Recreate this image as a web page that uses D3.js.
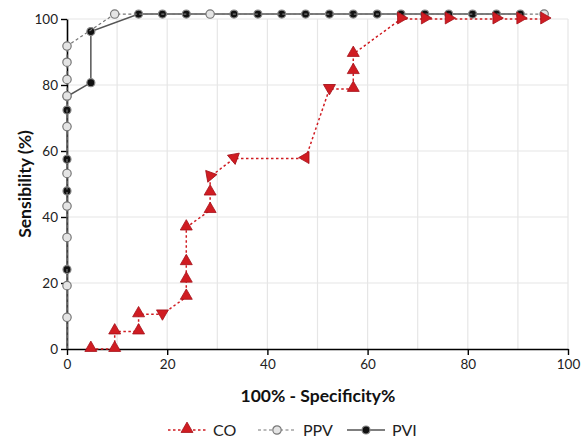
<!DOCTYPE html>
<html><head><meta charset="utf-8">
<script src="https://cdn.jsdelivr.net/npm/d3@7"></script>
<style>body{margin:0;background:#fff;}svg{display:block;font-family:Lato,"Open Sans",sans-serif;}</style>
</head><body><svg id="c" width="587" height="438"></svg>
<script>
const xTicks = [0,20,40,60,80,100];
const yTicks = [0,20,40,60,80,100];
const coX = [4.76,9.52,9.52,14.29,14.29,19.05,23.81,23.81,23.81,23.81,28.57,28.57,28.57,33.33,47.62,52.38,57.14,57.14,57.14,66.67,71.43,76.19,85.71,90.48,95.24];
const coY = [0,0,5.3,5.3,10.5,10.5,15.8,21.0,26.3,36.8,42.1,47.4,52.2,57.7,57.7,78.8,78.8,84.2,89.4,100,100,100,100,100,100];
const coMarkerAngle = [0,0,0,0,0,180,0,0,0,0,0,0,200,-70,-90,-60,0,0,0,90,90,90,90,90,90];
const ppvX = [0,0,0,0,0,0,0,0,0,0,0,9.52,28.57,95.24];
const ppvY = [0,9.6,19.2,33.8,43.3,53.2,67.4,76.7,81.7,86.9,91.8,101.5,101.5,101.5];
const ppvShow = [false,true,true,true,true,true,true,true,true,true,true,true,true,true];
const pviX = [0,0,0,0,0,0,4.76,4.76,14.29,19.05,23.81,33.33,38.10,42.86,47.62,52.38,57.14,61.90,66.67,71.43,76.19,80.95,85.71,90.48];
const pviY = [0,24.1,47.9,57.5,72.4,76.5,80.7,96.2,101.5,101.5,101.5,101.5,101.5,101.5,101.5,101.5,101.5,101.5,101.5,101.5,101.5,101.5,101.5,101.5];
const pviShow = [false,true,true,true,true,true,true,true,true,true,true,true,true,true,true,true,true,true,true,true,true,true,true,true];
const seriesNames = ["CO","PPV","PVI"];

const svg = d3.select("#c");
const x = d3.scaleLinear().domain([0,100]).range([67,568]);
const y = d3.scaleLinear().domain([0,100]).range([349,19]);

// grid
const g = svg.append("g");
g.selectAll("line.v").data(d3.range(10,101,10)).join("line")
 .attr("x1",d=>x(d)).attr("x2",d=>x(d)).attr("y1",y(0)).attr("y2",y(100))
 .attr("stroke","#e6e6e6").attr("stroke-width",1.2);
g.selectAll("line.h").data(d3.range(20,101,20)).join("line")
 .attr("x1",x(0)).attr("x2",x(100)).attr("y1",d=>y(d)).attr("y2",d=>y(d))
 .attr("stroke","#e6e6e6").attr("stroke-width",1.2);

// axes
const xa = svg.append("g").attr("transform",`translate(0,${y(0)})`)
 .call(d3.axisBottom(x).tickValues(xTicks).tickSize(6).tickSizeOuter(0).tickPadding(4));
const ya = svg.append("g").attr("transform",`translate(${x(0)},0)`)
 .call(d3.axisLeft(y).tickValues(yTicks).tickSize(6).tickSizeOuter(0).tickPadding(3));
[xa,ya].forEach(a=>{
  a.select(".domain").attr("stroke","#000").attr("stroke-width",1.6);
  a.selectAll(".tick line").attr("stroke","#000").attr("stroke-width",1.4);
  a.selectAll(".tick text").attr("font-size",13.5).attr("fill","#222").attr("font-family","Lato,sans-serif");
});

// titles
svg.append("text").attr("x",318).attr("y",402).attr("text-anchor","middle")
 .attr("font-size",17.5).attr("font-weight","bold").attr("fill","#111").text("100% - Specificity%");
svg.append("text").attr("transform","translate(31,184) rotate(-90)").attr("text-anchor","middle")
 .attr("font-size",17.5).attr("font-weight","bold").attr("fill","#111").text("Sensibility (%)");

const line = d3.line().x(d=>x(d[0])).y(d=>y(d[1]));
const tri = d3.symbol().type(d3.symbolTriangle).size(62);
const red = "#d01c22", redStroke = "#a5121a";

// PVI
const pvi = pviX.map((v,i)=>[v,pviY[i],pviShow[i]]);
svg.append("path").attr("d",line(pvi)).attr("fill","none").attr("stroke","#555").attr("stroke-width",1.5);
svg.selectAll("circle.pvi").data(pvi.filter(d=>d[2])).join("circle")
 .attr("cx",d=>x(d[0])).attr("cy",d=>y(d[1])).attr("r",4)
 .attr("fill","#111").attr("stroke","#888").attr("stroke-width",1.2);

// PPV
const ppv = ppvX.map((v,i)=>[v,ppvY[i],ppvShow[i]]);
svg.append("path").attr("d",line(ppv)).attr("fill","none").attr("stroke","#777").attr("stroke-width",1.2).attr("stroke-dasharray","3,2.5");
svg.selectAll("circle.ppv").data(ppv.filter(d=>d[2])).join("circle")
 .attr("cx",d=>x(d[0])).attr("cy",d=>y(d[1])).attr("r",4.2)
 .attr("fill","#e4e4e4").attr("stroke","#777").attr("stroke-width",1.2);

// CO
const co = coX.map((v,i)=>[v,coY[i],coMarkerAngle[i]]);
svg.append("path").attr("d",line(co)).attr("fill","none").attr("stroke",red).attr("stroke-width",1.5).attr("stroke-dasharray","2.5,2.5");
svg.selectAll("path.co").data(co).join("path")
 .attr("d",tri).attr("transform",d=>`translate(${x(d[0])},${y(d[1])-1}) rotate(${d[2]})`)
 .attr("fill",red).attr("stroke",redStroke).attr("stroke-width",0.8);

// legend
const lg = svg.append("g").attr("transform","translate(0,430)");
const items = [
 {name:seriesNames[0],x0:168,type:"co"},
 {name:seriesNames[1],x0:258,type:"ppv"},
 {name:seriesNames[2],x0:347,type:"pvi"}];
items.forEach(it=>{
  const l = lg.append("line").attr("x1",it.x0).attr("x2",it.x0+38).attr("y1",0).attr("y2",0);
  if(it.type==="co") l.attr("stroke",red).attr("stroke-width",1.5).attr("stroke-dasharray","2.5,2.5");
  if(it.type==="ppv") l.attr("stroke","#777").attr("stroke-width",1.2).attr("stroke-dasharray","3,2.5");
  if(it.type==="pvi") l.attr("stroke","#555").attr("stroke-width",1.5);
  const cx = it.x0+19;
  if(it.type==="co") lg.append("path").attr("d",tri).attr("transform",`translate(${cx},-1)`).attr("fill",red).attr("stroke",redStroke).attr("stroke-width",0.8);
  if(it.type==="ppv") lg.append("circle").attr("cx",cx).attr("cy",0).attr("r",4.2).attr("fill","#e4e4e4").attr("stroke","#777").attr("stroke-width",1.2);
  if(it.type==="pvi") lg.append("circle").attr("cx",cx).attr("cy",0).attr("r",4).attr("fill","#111").attr("stroke","#888").attr("stroke-width",1.2);
  lg.append("text").attr("x",it.x0+45).attr("y",6).attr("font-size",16).attr("fill","#222").text(it.name);
});
</script></body></html>
